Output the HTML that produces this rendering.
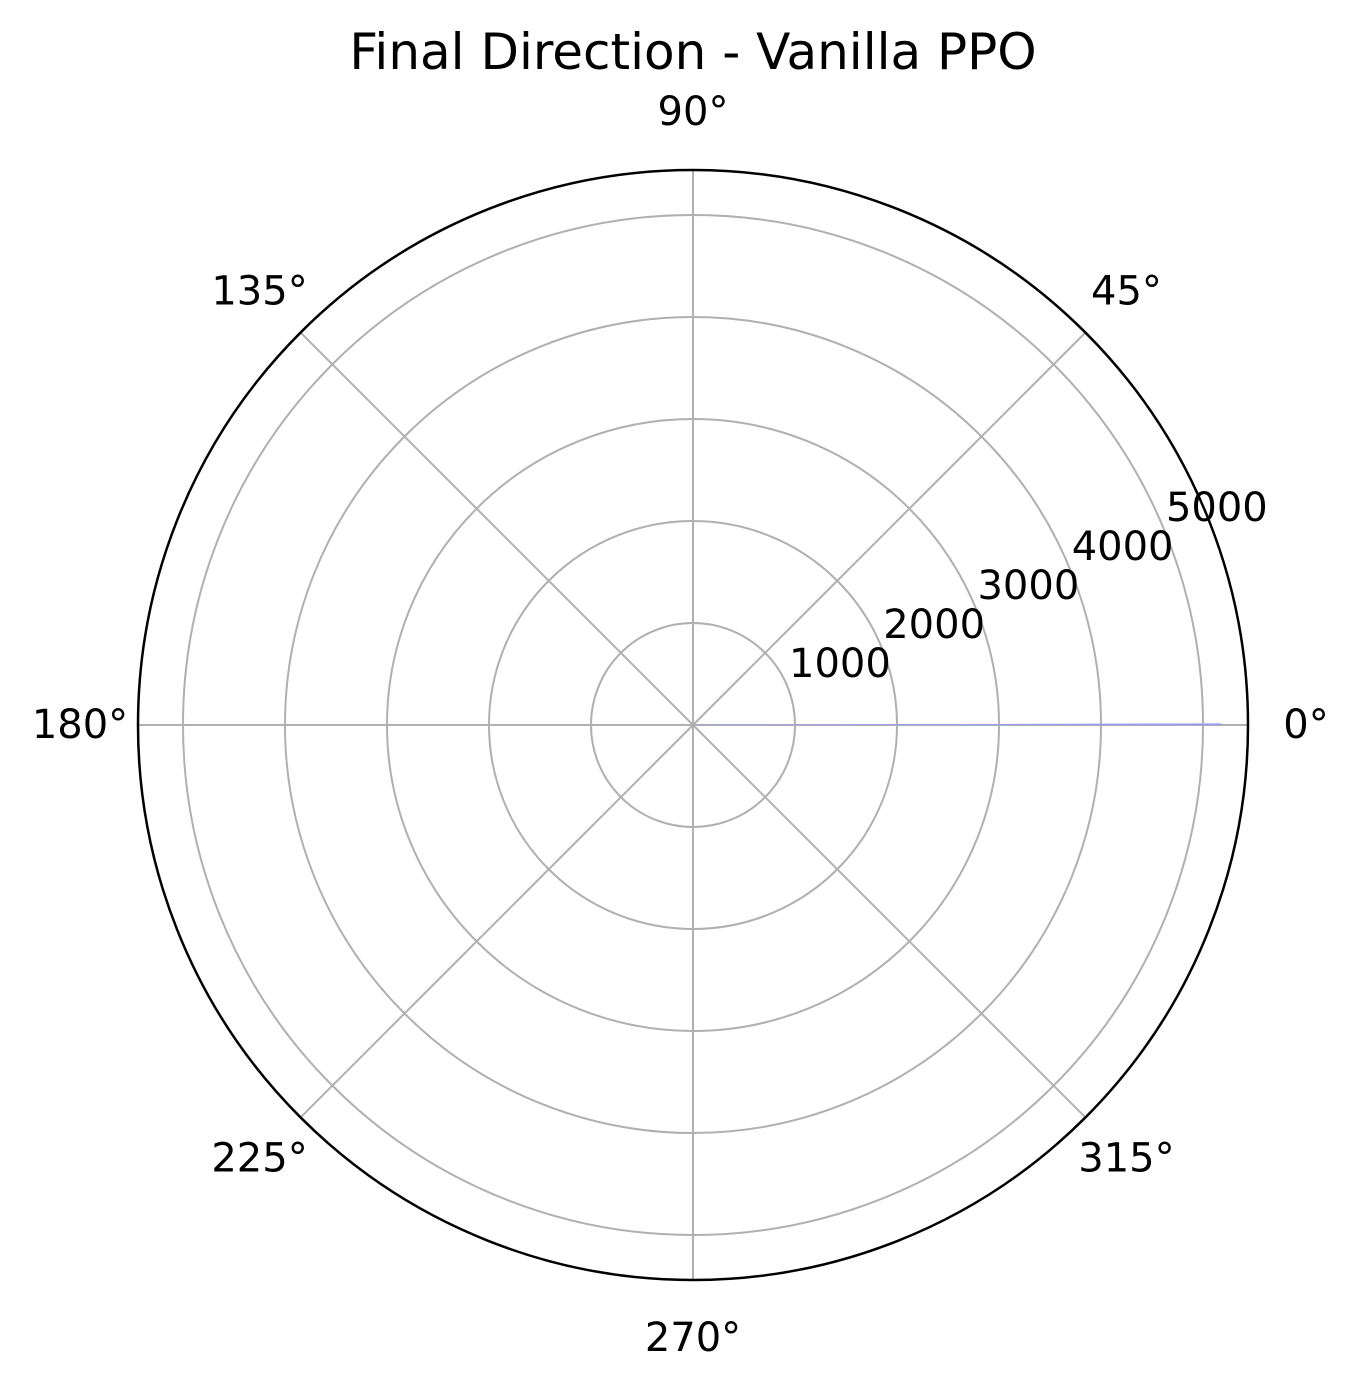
<!DOCTYPE html>
<html><head><meta charset="utf-8"><style>
html,body{margin:0;padding:0;background:#fff;}
svg{display:block;font-family:"DejaVu Sans","Liberation Sans",sans-serif;}
</style></head><body>
<svg id="chart" width="1359" height="1388" viewBox="0 0 1359 1388">
<text x="693" y="52" font-size="50" text-anchor="middle" dominant-baseline="central">Final Direction - Vanilla PPO</text>
<g id="grid"></g>
<g id="bars"></g>
<g id="labels" font-size="40"></g>
<circle cx="693" cy="725" r="555" fill="none" stroke="#000" stroke-width="2.5"/>
</svg>
<script>
const rTicks=[1000,2000,3000,4000,5000];
const rTickLabels=["1000","2000","3000","4000","5000"];
const angleTicks=[0,45,90,135,180,225,270,315];
const angleLabels=["0°","45°","90°","135°","180°","225°","270°","315°"];
const binAngles=[0];
const binCounts=[5176];
const binWidthDeg=0.15;
const rMax=5441;
const cx=693,cy=725,R=555;
const NS="http://www.w3.org/2000/svg";
function rs(v){return v/rMax*R;}
function pt(deg,r){const a=deg*Math.PI/180;return [cx+r*Math.cos(a),cy-r*Math.sin(a)];}
function mk(tag,attrs,parent){const e=document.createElementNS(NS,tag);for(const k in attrs)e.setAttribute(k,attrs[k]);parent.appendChild(e);return e;}
const grid=document.getElementById('grid'),bars=document.getElementById('bars'),labels=document.getElementById('labels');
rTicks.forEach((v,i)=>{
 const c=mk('circle',{cx:cx,cy:cy,r:rs(v),fill:'none',stroke:'#b0b0b0','stroke-width':2},grid);
 
 
 const p=pt(22.5,rs(v)+57);
 const t=mk('text',{x:p[0],y:p[1],'text-anchor':'middle','dominant-baseline':'central'},labels);
 t.textContent=rTickLabels[i];
 
 
});
angleTicks.forEach((a,i)=>{
 const p=pt(a,R);
 const l=mk('line',{x1:cx,y1:cy,x2:p[0],y2:p[1],stroke:'#b0b0b0','stroke-width':2},grid);
 
 
 const q=pt(a,R+58);
 const t=mk('text',{x:q[0],y:q[1],'text-anchor':'middle','dominant-baseline':'central'},labels);
 t.textContent=angleLabels[i];
 
 
});
binAngles.forEach((a,i)=>{
 const r=rs(binCounts[i]);
 const p1=pt(a,r),p2=pt(a+binWidthDeg,r);
 const poly=mk('polygon',{points:`${cx},${cy} ${p1[0]},${p1[1]} ${p2[0]},${p2[1]}`,fill:'#9a9ef0',stroke:'#9a9ef0','stroke-width':0.6},bars);
 
 
});
</script>
</body></html>
